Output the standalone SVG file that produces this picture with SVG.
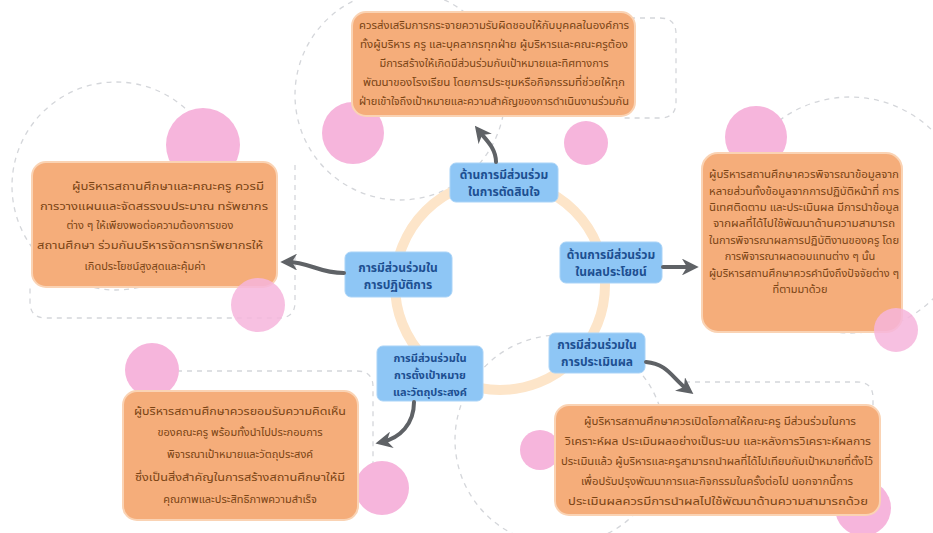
<svg xmlns="http://www.w3.org/2000/svg" width="933" height="533" viewBox="0 0 933 533">
<style>
.dash{fill:none;stroke:#d4d6da;stroke-width:1.3;stroke-dasharray:5 5}
.pink{fill:#f6b5dc}
.ring{fill:none;stroke:#fde5c9;stroke-width:10}
.obox{fill:#f5ad7a;stroke:#fad3b4;stroke-width:2}
.bbox{fill:#8ec6f5;stroke:#a9d3f7;stroke-width:1}
.otxt{font-family:"Noto Sans Thai","Noto Sans","Liberation Sans",sans-serif;font-size:11px;fill:#7a4414;text-anchor:middle}
.btxt{font-family:"Noto Sans Thai","Noto Sans","Liberation Sans",sans-serif;font-size:12px;font-weight:bold;fill:#1d4f91;text-anchor:middle}
.sm{font-size:11px}
.conn{fill:none;stroke:#5f6266;stroke-width:4;stroke-linecap:round}
</style>
<defs>
<marker id="ah" viewBox="0 0 10 10" refX="6" refY="5" markerWidth="4.2" markerHeight="4.2" orient="auto" markerUnits="strokeWidth">
<path d="M0,0 L10,5 L0,10 L3,5 z" fill="#5f6266"/>
</marker>
</defs>
<rect width="933" height="533" fill="#ffffff"/>
<g id="decor">
<circle class="dash" cx="116" cy="186" r="104"/>
<path class="dash" d="M295,165 V302 Q295,318 279,318 H46 Q30,318 30,302 V285"/>
<circle class="dash" cx="400" cy="95" r="105"/>
<path class="dash" d="M630,18 H660 Q676,18 676,34 V102 Q676,118 660,118 H620"/>
<circle class="dash" cx="850" cy="215" r="118"/>
<path class="dash" d="M177,371 H357 Q373,371 373,387 V470"/>
<circle class="dash" cx="560" cy="440" r="105"/>
<path class="dash" d="M685,382 H857 Q873,382 873,398 V410"/>
<circle class="pink" cx="353" cy="133" r="31"/>
<circle class="pink" cx="586" cy="143" r="22"/>
<circle class="pink" cx="203" cy="145" r="37"/>
<circle class="pink" cx="756" cy="137" r="31"/>
<circle class="pink" cx="152" cy="370" r="27"/>
<circle class="pink" cx="382" cy="488" r="27"/>
<circle class="pink" cx="540" cy="450" r="20"/>
<circle class="pink" cx="863" cy="508" r="28"/>
<circle class="ring" cx="500" cy="285" r="105"/>
</g>
<g id="box-top">
<rect class="obox" x="352" y="12" width="283" height="104" rx="14"/>
<text class="otxt" x="494" y="29" textLength="270" lengthAdjust="spacingAndGlyphs">ควรส่งเสริมการกระจายความรับผิดชอบให้กับบุคคลในองค์การ</text>
<text class="otxt" x="494" y="48" textLength="268" lengthAdjust="spacingAndGlyphs">ทั้งผู้บริหาร ครู และบุคลากรทุกฝ่าย ผู้บริหารและคณะครูต้อง</text>
<text class="otxt" x="494" y="67">มีการสร้างให้เกิดมีส่วนร่วมกับเป้าหมายและทิศทางการ</text>
<text class="otxt" x="494" y="86" textLength="262" lengthAdjust="spacingAndGlyphs">พัฒนาของโรงเรียน โดยการประชุมหรือกิจกรรมที่ช่วยให้ทุก</text>
<text class="otxt" x="494" y="105" textLength="270" lengthAdjust="spacingAndGlyphs">ฝ่ายเข้าใจถึงเป้าหมายและความสำคัญของการดำเนินงานร่วมกัน</text>
</g>
<g id="box-left">
<rect class="obox" x="32" y="162" width="245" height="125" rx="14"/>
<text class="otxt" x="168" y="190" textLength="192" lengthAdjust="spacingAndGlyphs">ผู้บริหารสถานศึกษาและคณะครู ควรมี</text>
<text class="otxt" x="154" y="210" textLength="228" lengthAdjust="spacingAndGlyphs">การวางแผนและจัดสรรงบประมาณ ทรัพยากร</text>
<text class="otxt" x="150" y="229">ต่าง ๆ ให้เพียงพอต่อความต้องการของ</text>
<text class="otxt" x="150" y="249" textLength="226" lengthAdjust="spacingAndGlyphs">สถานศึกษา ร่วมกันบริหารจัดการทรัพยากรให้</text>
<text class="otxt" x="145" y="270">เกิดประโยชน์สูงสุดและคุ้มค่า</text>
</g>
<g id="box-right">
<rect class="obox" x="702" y="153" width="200" height="179" rx="16"/>
<text class="otxt" x="804" y="178" textLength="190" lengthAdjust="spacingAndGlyphs">ผู้บริหารสถานศึกษาควรพิจารณาข้อมูลจาก</text>
<text class="otxt" x="804" y="195" textLength="190" lengthAdjust="spacingAndGlyphs">หลายส่วนทั้งข้อมูลจากการปฏิบัติหน้าที่ การ</text>
<text class="otxt" x="804" y="211" textLength="190" lengthAdjust="spacingAndGlyphs">นิเทศติดตาม และประเมินผล มีการนำข้อมูล</text>
<text class="otxt" x="804" y="227" textLength="182" lengthAdjust="spacingAndGlyphs">จากผลที่ได้ไปใช้พัฒนาด้านความสามารถ</text>
<text class="otxt" x="804" y="244" textLength="190" lengthAdjust="spacingAndGlyphs">ในการพิจารณาผลการปฏิบัติงานของครู โดย</text>
<text class="otxt" x="800" y="260">การพิจารณาผลตอบแทนต่าง ๆ นั้น</text>
<text class="otxt" x="804" y="277" textLength="190" lengthAdjust="spacingAndGlyphs">ผู้บริหารสถานศึกษาควรคำนึงถึงปัจจัยต่าง ๆ</text>
<text class="otxt" x="800" y="293">ที่ตามมาด้วย</text>
</g>
<g id="box-bottom-left">
<rect class="obox" x="123" y="391" width="235" height="129" rx="14"/>
<text class="otxt" x="240" y="415" textLength="212" lengthAdjust="spacingAndGlyphs">ผู้บริหารสถานศึกษาควรยอมรับความคิดเห็น</text>
<text class="otxt" x="240" y="436">ของคณะครู พร้อมทั้งนำไปประกอบการ</text>
<text class="otxt" x="240" y="458">พิจารณาเป้าหมายและวัตถุประสงค์</text>
<text class="otxt" x="240" y="481" textLength="210" lengthAdjust="spacingAndGlyphs">ซึ่งเป็นสิ่งสำคัญในการสร้างสถานศึกษาให้มี</text>
<text class="otxt" x="240" y="503">คุณภาพและประสิทธิภาพความสำเร็จ</text>
</g>
<g id="box-bottom-right">
<rect class="obox" x="555" y="405" width="325" height="110" rx="14"/>
<text class="otxt" x="720" y="425" textLength="272" lengthAdjust="spacingAndGlyphs">ผู้บริหารสถานศึกษาควรเปิดโอกาสให้คณะครู มีส่วนร่วมในการ</text>
<text class="otxt" x="718" y="445" textLength="306" lengthAdjust="spacingAndGlyphs">วิเคราะห์ผล ประเมินผลอย่างเป็นระบบ และหลังการวิเคราะห์ผลการ</text>
<text class="otxt" x="717" y="465" textLength="312" lengthAdjust="spacingAndGlyphs">ประเมินแล้ว ผู้บริหารและครูสามารถนำผลที่ได้ไปเทียบกับเป้าหมายที่ตั้งไว้</text>
<text class="otxt" x="717" y="485" textLength="272" lengthAdjust="spacingAndGlyphs">เพื่อปรับปรุงพัฒนาการและกิจกรรมในครั้งต่อไป นอกจากนี้การ</text>
<text class="otxt" x="718" y="505" textLength="300" lengthAdjust="spacingAndGlyphs">ประเมินผลควรมีการนำผลไปใช้พัฒนาด้านความสามารถด้วย</text>
</g>
<g id="pink-front" opacity="0.85">
<circle class="pink" cx="258" cy="305" r="27"/>
<circle class="pink" cx="896" cy="330" r="22"/>
</g>
<g id="node-decision">
<rect class="bbox" x="450" y="163" width="108" height="39" rx="6"/>
<text class="btxt" x="504" y="179">ด้านการมีส่วนร่วม</text>
<text class="btxt" x="504" y="196">ในการตัดสินใจ</text>
</g>
<g id="node-benefit">
<rect class="bbox" x="560" y="242" width="102" height="41" rx="6"/>
<text class="btxt" x="611" y="259">ด้านการมีส่วนร่วม</text>
<text class="btxt" x="611" y="276">ในผลประโยชน์</text>
</g>
<g id="node-evaluation">
<rect class="bbox" x="549" y="333" width="96" height="40" rx="6"/>
<text class="btxt" x="597" y="349">การมีส่วนร่วมใน</text>
<text class="btxt" x="597" y="366">การประเมินผล</text>
</g>
<g id="node-goal">
<rect class="bbox" x="377" y="346" width="106" height="55" rx="6"/>
<text class="btxt sm" x="430" y="362">การมีส่วนร่วมใน</text>
<text class="btxt sm" x="430" y="379">การตั้งเป้าหมาย</text>
<text class="btxt sm" x="430" y="396">และวัตถุประสงค์</text>
</g>
<g id="node-practice">
<rect class="bbox" x="345" y="252" width="107" height="45" rx="6"/>
<text class="btxt" x="398" y="272">การมีส่วนร่วมใน</text>
<text class="btxt" x="398" y="289">การปฏิบัติการ</text>
</g>
<g id="connectors">
<path class="conn" d="M496,162 C496,148 486,140 479,131" marker-end="url(#ah)"/>
<path class="conn" d="M344,273 C318,273 310,262 287,262" marker-end="url(#ah)"/>
<path class="conn" d="M663,267 L692,267" marker-end="url(#ah)"/>
<path class="conn" d="M646,362 C668,364 672,378 688,390" marker-end="url(#ah)"/>
<path class="conn" d="M414,402 C414,424 400,438 382,442" marker-end="url(#ah)"/>
</g>
</svg>
